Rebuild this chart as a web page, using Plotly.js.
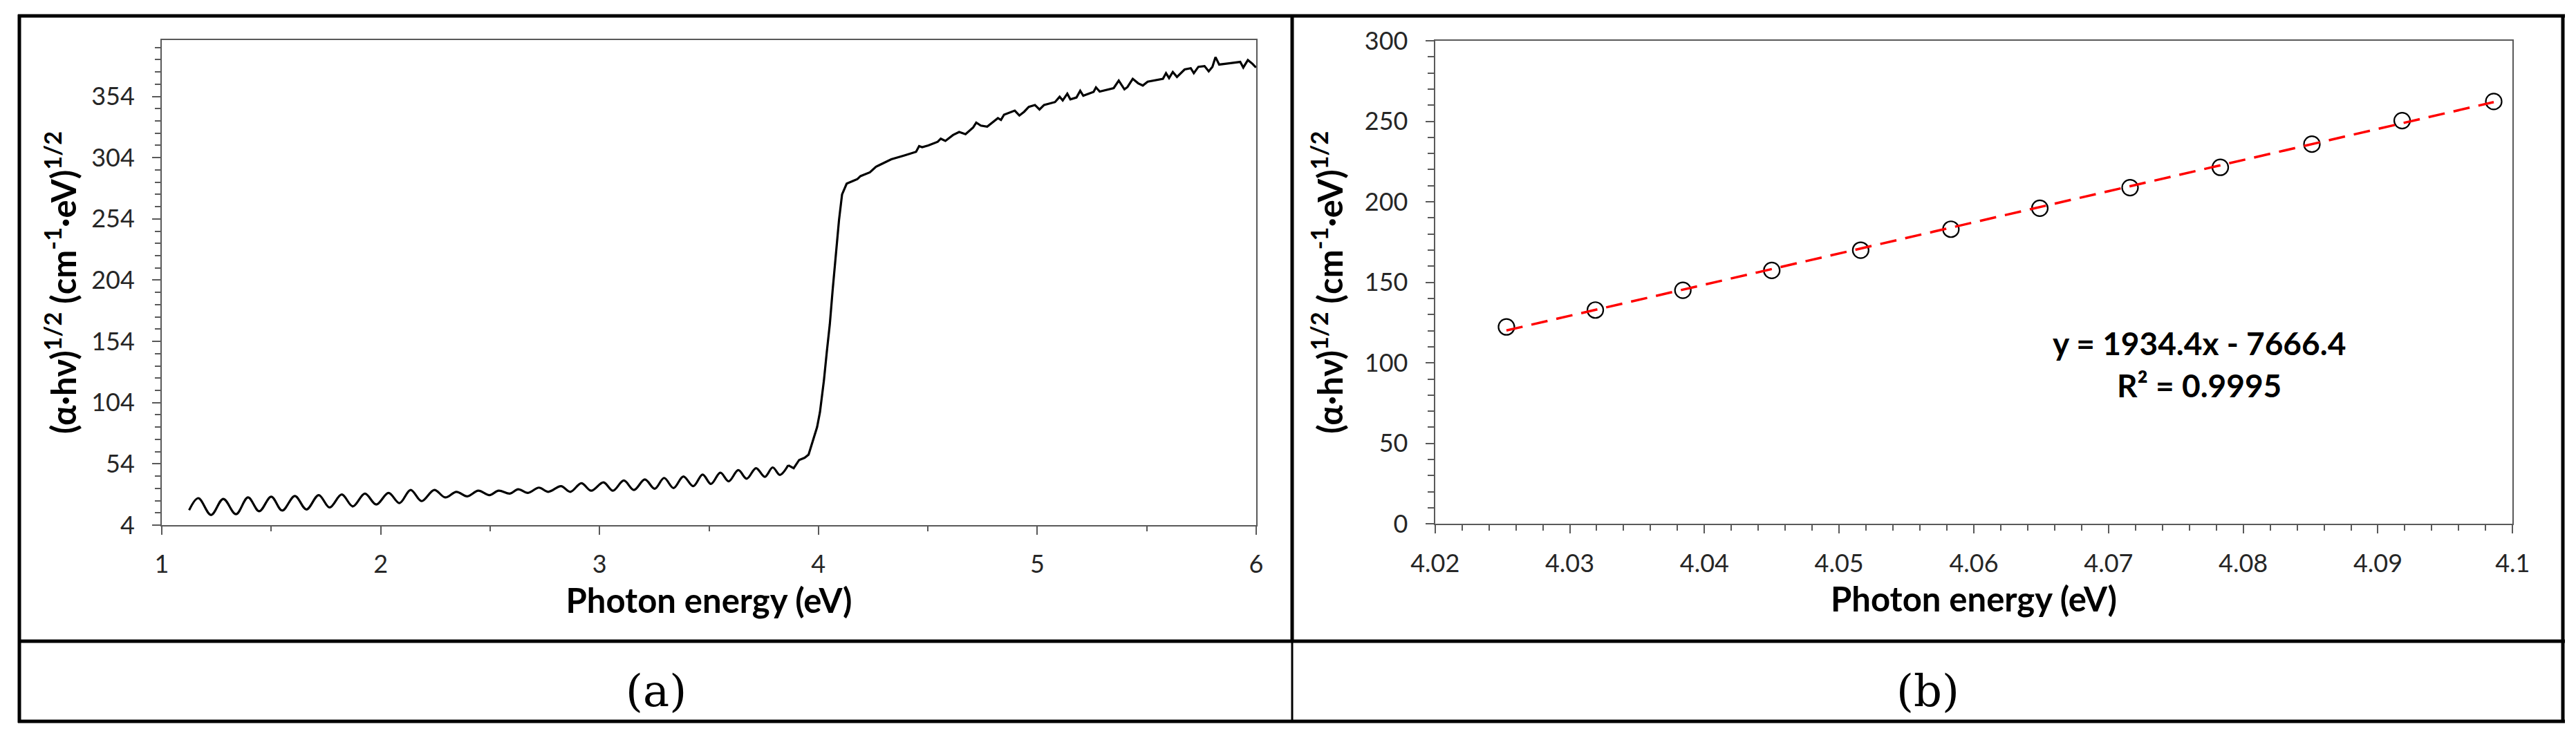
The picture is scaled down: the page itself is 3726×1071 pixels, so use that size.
<!DOCTYPE html>
<html>
<head>
<meta charset="utf-8">
<script src="https://cdn.plot.ly/plotly-3.0.1.min.js"></script>
<style>
  html, body { margin: 0; padding: 0; background: #ffffff; }
  #fig { width: 3726px; height: 1071px; }
</style>
</head>
<body>
<div id="fig"></div>
<script>
// (a) Tauc curve: interference-fringe region below the edge (smooth) ...
const fringeEnergy = [1.125,1.167,1.225,1.281,1.339,1.394,1.445,1.500,1.550,1.608,1.661,1.717,1.767,1.822,1.873,1.928,1.980,2.036,2.086,2.137,2.187,2.245,2.295,2.346,2.396,2.446,2.497,2.539,2.590,2.628,2.673,2.723,2.766,2.824,2.867,2.917,2.962,3.018,3.061,3.111,3.157,3.207,3.252,3.295,3.338,3.383,3.428,3.471,3.509,3.552,3.590,3.634,3.672,3.715,3.755,3.791,3.824,3.862];
const fringeTauc = [16.2,26.0,12.3,25.4,12.9,26.6,15.3,27.2,15.9,27.8,16.8,28.5,18.4,29.0,19.3,29.7,20.8,30.3,22.0,32.7,23.6,32.7,26.6,31.2,27.5,32.1,28.5,32.1,29.7,33.3,30.3,34.6,31.2,35.8,31.2,38.2,32.1,38.9,32.1,40.4,32.7,41.3,33.7,42.5,34.3,43.7,35.8,45.3,37.6,46.8,39.8,48.9,41.9,50.5,43.4,51.1,45.0,52.9];

// ... and the absorption edge plus the noisy high-energy plateau
const edgeEnergy = [3.862,3.887,3.912,3.937,3.955,3.975,3.994,4.007,4.025,4.038,4.052,4.065,4.079,4.094,4.108,4.129,4.157,4.178,4.192,4.235,4.263,4.291,4.333,4.390,4.446,4.460,4.474,4.502,4.545,4.559,4.580,4.615,4.643,4.672,4.707,4.721,4.742,4.771,4.799,4.820,4.834,4.848,4.897,4.918,4.940,4.961,4.989,5.010,5.031,5.081,5.102,5.116,5.137,5.151,5.179,5.196,5.210,5.257,5.268,5.285,5.349,5.372,5.398,5.412,5.436,5.461,5.482,5.504,5.574,5.588,5.602,5.619,5.638,5.673,5.701,5.715,5.736,5.764,5.783,5.800,5.814,5.831,5.927,5.941,5.962,5.983,5.999];
const edgeTauc = [52.9,50.5,57.2,59.0,61.5,73.4,84.1,96.3,122,145,168,196,222,253,274,282.8,284.9,286.5,288.9,292.0,296.6,299.0,302.7,305.7,308.8,313.4,312.5,314.0,317.0,319.5,317.7,322.5,325.0,323.2,328.7,332.6,330.2,329.3,333.2,336.3,334.8,339.1,342.4,338.4,341.5,345.5,347.0,343.3,347.0,349.4,353.7,350.7,356.2,351.6,353.1,358.6,354.6,357.7,361.4,358.0,360.8,366.9,359.8,361.7,368.4,364.7,362.9,366.0,368.4,373.0,369.0,373.9,369.9,376.0,377.0,373.0,378.2,378.8,374.5,378.2,386.1,380.0,382.2,377.6,383.7,380.6,377.6];

// (b) points of the linear edge region used for the fit
const fitEnergy = [4.0253,4.0319,4.0384,4.0450,4.0516,4.0583,4.0649,4.0716,4.0783,4.0851,4.0918,4.0986];
const fitTauc = [122.3,132.8,145.1,157.4,170.0,183.0,196.0,208.8,221.4,235.8,250.4,262.3];

// linear fit reported on the chart
const fitSlope = 1934.4;
const fitIntercept = -7666.4;
const fitR2 = 0.9995;

// labels
const panelLabels = ['(a)', '(b)'];
const xTitle = '<b>Photon energy (eV)</b>';
const yTitle = '<b>(α·hν)<sup>1/2</sup> (cm<sup>-1</sup>·eV)<sup>1/2</sup></b>';

const W = 3726, H = 1071;
const px = v => v / W;
const py = v => 1 - v / H;

const axisColor = '#595959';
const textColor = '#262626';
const sans = 'Lato, sans-serif';
const tickSize = 36;
const titleSize = 49;
const fitTextSize = 46;

const trendX = [fitEnergy[0], fitEnergy[fitEnergy.length - 1]];
const trendY = trendX.map(e => fitSlope * e + fitIntercept);

const traces = [
  {
    x: fringeEnergy, y: fringeTauc, xaxis: 'x', yaxis: 'y',
    type: 'scatter', mode: 'lines',
    line: { color: '#000000', width: 3.2, shape: 'spline', smoothing: 1 },
    hoverinfo: 'skip'
  },
  {
    x: edgeEnergy, y: edgeTauc, xaxis: 'x', yaxis: 'y',
    type: 'scatter', mode: 'lines',
    line: { color: '#000000', width: 3.2, shape: 'linear' },
    hoverinfo: 'skip'
  },
  {
    x: fitEnergy, y: fitTauc, xaxis: 'x2', yaxis: 'y2',
    type: 'scatter', mode: 'markers',
    marker: { symbol: 'circle-open', size: 23, color: '#000000', line: { width: 2.2, color: '#000000' } },
    hoverinfo: 'skip'
  },
  {
    x: trendX, y: trendY, xaxis: 'x2', yaxis: 'y2',
    type: 'scatter', mode: 'lines',
    line: { color: '#ff0000', width: 3.5, dash: '24px,13px' },
    hoverinfo: 'skip'
  }
];

function baseAxis(extra) {
  return Object.assign({
    showline: true, linecolor: axisColor, linewidth: 2, mirror: true,
    showgrid: false, zeroline: false,
    ticks: 'outside', ticklen: 12, tickwidth: 2, tickcolor: axisColor,
    tickfont: { family: sans, size: tickSize, color: textColor },
    fixedrange: true
  }, extra);
}

const minorStyle = { ticks: 'outside', tickwidth: 2, tickcolor: axisColor, showgrid: false };

// table frame around the two panels
const frameColor = '#000000';
function hLine(y, x0, x1, w) {
  return { type: 'line', xref: 'paper', yref: 'paper', x0: px(x0), x1: px(x1), y0: py(y), y1: py(y), line: { color: frameColor, width: w } };
}
function vLine(x, y0, y1, w) {
  return { type: 'line', xref: 'paper', yref: 'paper', x0: px(x), x1: px(x), y0: py(y0), y1: py(y1), line: { color: frameColor, width: w } };
}

const layout = {
  width: W, height: H,
  margin: { l: 0, r: 0, t: 0, b: 0, pad: 0 },
  paper_bgcolor: '#ffffff', plot_bgcolor: '#ffffff',
  showlegend: false,
  font: { family: sans, color: textColor },
  xaxis: baseAxis({
    domain: [px(234), px(1817)], anchor: 'y',
    range: [1, 6], tick0: 1, dtick: 1,
    ticklabelstandoff: 12,
    minor: Object.assign({ tick0: 1, dtick: 0.5, ticklen: 7 }, minorStyle),
    title: { text: xTitle, font: { family: sans, size: titleSize, color: '#000000' }, standoff: 16 }
  }),
  yaxis: baseAxis({
    domain: [py(760), py(58)], anchor: 'x',
    range: [4, 400], tick0: 4, dtick: 50,
    ticklabelstandoff: 18,
    minor: Object.assign({ tick0: 4, dtick: 10, ticklen: 8 }, minorStyle),
    title: { text: yTitle, font: { family: sans, size: titleSize, color: '#000000' }, standoff: 6 }
  }),
  xaxis2: baseAxis({
    domain: [px(2075.7), px(3634.3)], anchor: 'y2',
    range: [4.02, 4.1], tick0: 4.02, dtick: 0.01,
    ticklabelstandoff: 12,
    minor: Object.assign({ tick0: 4.02, dtick: 0.002, ticklen: 8 }, minorStyle),
    title: { text: xTitle, font: { family: sans, size: titleSize, color: '#000000' }, standoff: 16 }
  }),
  yaxis2: baseAxis({
    domain: [py(758.3), py(59)], anchor: 'x2',
    range: [0, 300], tick0: 0, dtick: 50,
    ticklabelstandoff: 18,
    minor: Object.assign({ tick0: 0, dtick: 10, ticklen: 9 }, minorStyle),
    title: { text: yTitle, font: { family: sans, size: titleSize, color: '#000000' }, standoff: 16 }
  }),
  annotations: [
    {
      xref: 'paper', yref: 'paper', x: px(3181), y: py(496), xanchor: 'center', yanchor: 'middle',
      text: '<b>y = ' + fitSlope.toFixed(1) + 'x - ' + Math.abs(fitIntercept).toFixed(1) + '</b>',
      showarrow: false, font: { family: sans, size: fitTextSize, color: '#000000' }
    },
    {
      xref: 'paper', yref: 'paper', x: px(3181), y: py(557), xanchor: 'center', yanchor: 'middle',
      text: '<b>R² = ' + fitR2.toFixed(4) + '</b>',
      showarrow: false, font: { family: sans, size: fitTextSize, color: '#000000' }
    },
    {
      xref: 'paper', yref: 'paper', x: px(949), y: py(1000), xanchor: 'center', yanchor: 'middle',
      text: panelLabels[0], showarrow: false,
      font: { family: '"DejaVu Serif", serif', size: 64, color: '#000000' }
    },
    {
      xref: 'paper', yref: 'paper', x: px(2788), y: py(1000), xanchor: 'center', yanchor: 'middle',
      text: panelLabels[1], showarrow: false,
      font: { family: '"DejaVu Serif", serif', size: 64, color: '#000000' }
    }
  ],
  shapes: [
    hLine(23, 26, 3710, 5),
    hLine(928, 26, 3710, 5),
    hLine(1044, 26, 3710, 5),
    vLine(28, 21, 1046, 5),
    vLine(3707, 21, 1046, 5),
    vLine(1869, 21, 928, 5),
    vLine(1869, 928, 1044, 3)
  ]
};

Plotly.newPlot('fig', traces, layout, { staticPlot: true, displayModeBar: false });
</script>
</body>
</html>
